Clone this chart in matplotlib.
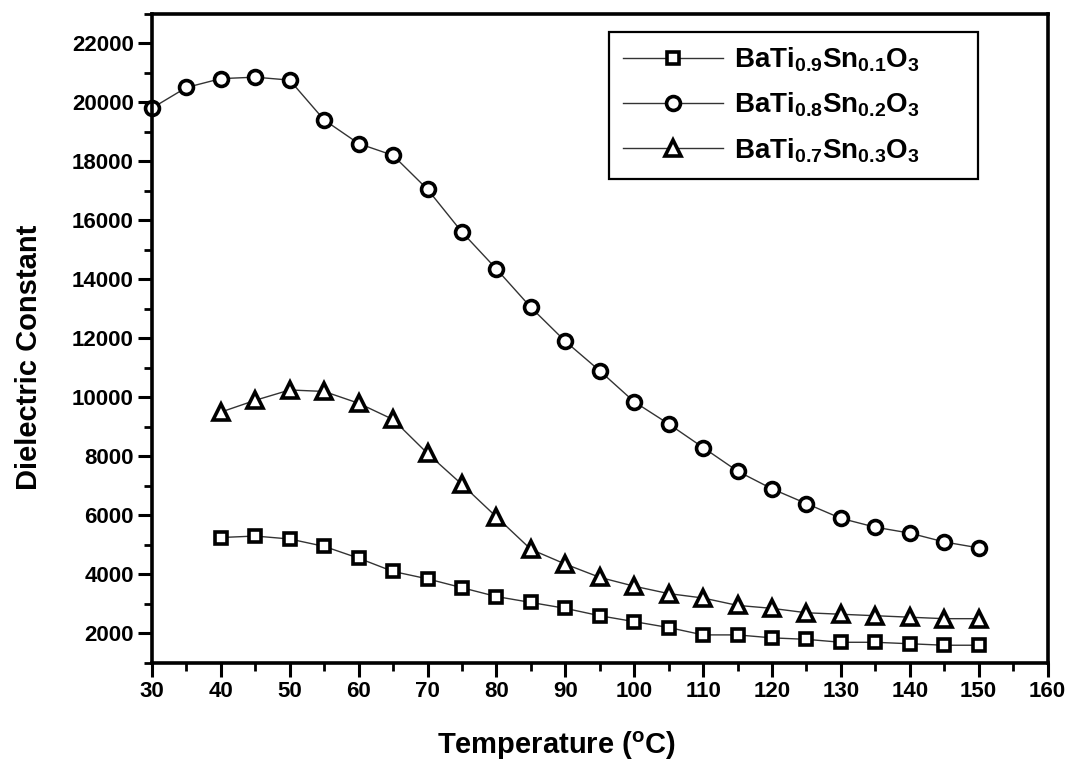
import matplotlib
matplotlib.use("Agg")
import matplotlib.pyplot as plt
from matplotlib.patches import Rectangle
from matplotlib.ticker import MultipleLocator

plt.rcParams['font.family'] = ['Liberation Sans', 'DejaVu Sans']
plt.rcParams['font.weight'] = 'bold'
plt.rcParams['mathtext.fontset'] = 'custom'
plt.rcParams['mathtext.rm'] = 'Liberation Sans:bold'
plt.rcParams['mathtext.bf'] = 'Liberation Sans:bold'
plt.rcParams['mathtext.it'] = 'Liberation Sans:bold'

# temperature (C)
temp_a = [40, 45, 50, 55, 60, 65, 70, 75, 80, 85, 90, 95, 100, 105, 110,
          115, 120, 125, 130, 135, 140, 145, 150]
temp_b = [30, 35] + temp_a

# BaTi0.9Sn0.1O3
eps_01 = [5250, 5300, 5200, 4950, 4550, 4100, 3850, 3550, 3250, 3050, 2850,
          2600, 2400, 2200, 1950, 1950, 1850, 1800, 1700, 1700, 1650, 1600, 1600]
# BaTi0.8Sn0.2O3
eps_02 = [19800, 20500, 20800, 20850, 20750, 19400, 18600, 18200, 17050,
          15600, 14350, 13050, 11900, 10900, 9850, 9100, 8300, 7500, 6900,
          6400, 5900, 5600, 5400, 5100, 4900]
# BaTi0.7Sn0.3O3
eps_03 = [9500, 9900, 10250, 10200, 9800, 9250, 8100, 7050, 5950, 4850, 4350,
          3900, 3600, 3350, 3200, 2950, 2850, 2700, 2650, 2600, 2550, 2500, 2500]

labels = [r'BaTi$_{0.9}$Sn$_{0.1}$O$_{3}$',
          r'BaTi$_{0.8}$Sn$_{0.2}$O$_{3}$',
          r'BaTi$_{0.7}$Sn$_{0.3}$O$_{3}$']

fig = plt.figure(figsize=(10.7, 7.62), dpi=100)
ax = fig.add_axes([0.142, 0.130, 0.837, 0.852])

style = dict(color='#333333', linewidth=1, markerfacecolor='white',
             markeredgecolor='black', markeredgewidth=2.6, clip_on=False)
ax.plot(temp_a, eps_01, marker='s', markersize=8.5, label=labels[0], **style)
ax.plot(temp_b, eps_02, marker='o', markersize=10, label=labels[1], **style)
ax.plot(temp_a, eps_03, marker='^', markersize=12, label=labels[2], **style)

ax.set_xlim(30, 160)
ax.set_ylim(1000, 23000)
ax.xaxis.set_major_locator(MultipleLocator(10))
ax.xaxis.set_minor_locator(MultipleLocator(5))
ax.yaxis.set_minor_locator(MultipleLocator(1000))
ax.set_yticks(range(2000, 22001, 2000))

for s in ax.spines.values():
    s.set_linewidth(2.6)
ax.tick_params(which='major', direction='out', length=10, width=2.2,
               labelsize=16, pad=3)
ax.tick_params(which='minor', direction='out', length=6, width=2)
for t in ax.get_xticklabels() + ax.get_yticklabels():
    t.set_fontweight('bold')

ax.set_xlabel(r'Temperature ($^{\mathrm{o}}$C)', fontsize=21, fontweight='bold')
ax.xaxis.set_label_coords(0.452, -0.103)
ax.set_ylabel('Dielectric Constant', fontsize=21, fontweight='bold')
ax.yaxis.set_label_coords(-0.122, 0.471)

leg = ax.legend(loc='upper left', bbox_to_anchor=(0.51, 0.972),
                borderaxespad=0, fontsize=20, frameon=False,
                handlelength=3.6, borderpad=0.5,
                labelspacing=0.6, handletextpad=0.4)

# the original frame is wider than the entries, draw it by hand
fig.canvas.draw()
bb = leg.get_window_extent().transformed(fig.transFigure.inverted())
right = fig.transFigure.inverted().transform(ax.transAxes.transform((0.922, 0)))[0]
fig.patches.append(Rectangle((bb.x0, bb.y0), right - bb.x0, bb.height,
                             transform=fig.transFigure, fill=False,
                             edgecolor='black', linewidth=1.6, zorder=5))

fig.savefig('out.png', dpi=100)
